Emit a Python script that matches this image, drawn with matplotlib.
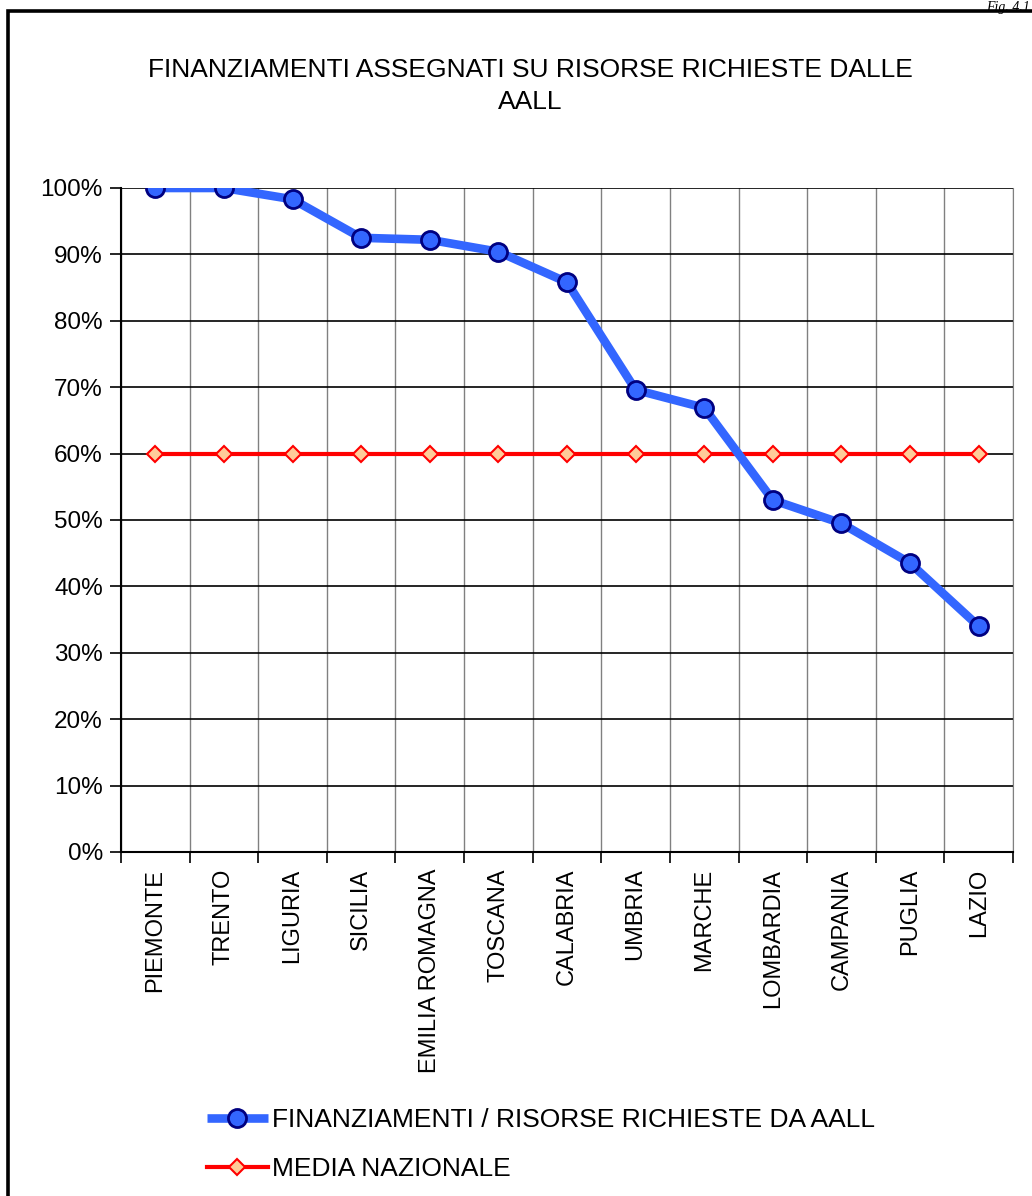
import matplotlib
matplotlib.use("Agg")
import matplotlib.pyplot as plt
from matplotlib.patches import Rectangle
from matplotlib.ticker import FixedLocator, FuncFormatter
import numpy as np

plt.rcParams['font.family'] = ['Liberation Sans', 'DejaVu Sans']

categories = ["PIEMONTE", "TRENTO", "LIGURIA", "SICILIA", "EMILIA ROMAGNA", "TOSCANA",
              "CALABRIA", "UMBRIA", "MARCHE", "LOMBARDIA", "CAMPANIA", "PUGLIA", "LAZIO"]
ratio = [1.000, 1.000, 0.983, 0.925, 0.922, 0.904, 0.858, 0.696, 0.669, 0.530, 0.495, 0.435, 0.340]
media = [0.599] * len(categories)
yticks = [0.0, 0.1, 0.2, 0.3, 0.4, 0.5, 0.6, 0.7, 0.8, 0.9, 1.0]

W, H = 1032, 1196
fig = plt.figure(figsize=(W / 100, H / 100), dpi=100)
ax = fig.add_axes([121 / W, 1 - 852 / H, (1013 - 121) / W, (852 - 188) / H])

x = np.arange(len(categories))
ax.plot(x, ratio, color='#3366FF', lw=6.2, marker='o', markersize=13,
        markerfacecolor='#3366FF', markeredgecolor='#000080', markeredgewidth=2,
        label='FINANZIAMENTI / RISORSE RICHIESTE DA AALL', zorder=4, solid_capstyle='butt')
ax.plot(x, media, color='#FF0000', lw=3, marker='D', markersize=8.5,
        markerfacecolor='#FFCC99', markeredgecolor='#FF0000', markeredgewidth=1.5,
        label='MEDIA NAZIONALE', zorder=3)

ax.set_xlim(-0.5, len(categories) - 0.5)
ax.set_ylim(0, 1)

ax.yaxis.set_major_locator(FixedLocator(yticks))
ax.yaxis.set_major_formatter(FuncFormatter(lambda v, p: f"{v * 100:.0f}%"))
ax.set_xticks(x)
ax.set_xticklabels(categories, rotation=90, fontsize=17)
ax.tick_params(axis='x', which='major', length=0, pad=12)
ax.set_xticks(np.arange(len(categories) + 1) - 0.5, minor=True)
ax.tick_params(axis='x', which='minor', length=8, width=1.2, color='#000000', direction='out')
ax.tick_params(axis='y', length=8, width=1.2, labelsize=17.5, pad=5, direction='out')

ax.grid(axis='y', which='major', color='#000000', lw=1.2, zorder=1)
ax.grid(axis='x', which='minor', color='#808080', lw=1, zorder=1)
ax.set_axisbelow(True)

ax.spines['top'].set_visible(False)
ax.spines['right'].set_color('#808080')
ax.spines['left'].set_linewidth(1.5)
ax.spines['bottom'].set_linewidth(1.5)

fig.text(530 / W, 1 - 86 / H, "FINANZIAMENTI ASSEGNATI SU RISORSE RICHIESTE DALLE\nAALL",
         ha='center', va='center', fontsize=19, linespacing=1.38)

leg = fig.legend(loc='upper left', bbox_to_anchor=(207 / W, 1 - 1108 / H), frameon=False,
                 fontsize=19, handlelength=2.3, handletextpad=0.15, labelspacing=0.95,
                 borderpad=0, borderaxespad=0)

fig.text(1030 / W, 1 - 1 / H, "Fig. 4.1", ha='right', va='top', fontsize=10,
         family=['Liberation Serif', 'DejaVu Serif'], style='italic')

fig.patches.append(Rectangle((7.5 / W, -0.05), 1.1, (1 - 11.5 / H) + 0.05,
                             transform=fig.transFigure, fill=False, lw=2.6,
                             edgecolor='black', figure=fig))

fig.savefig("out.png", dpi=100)
